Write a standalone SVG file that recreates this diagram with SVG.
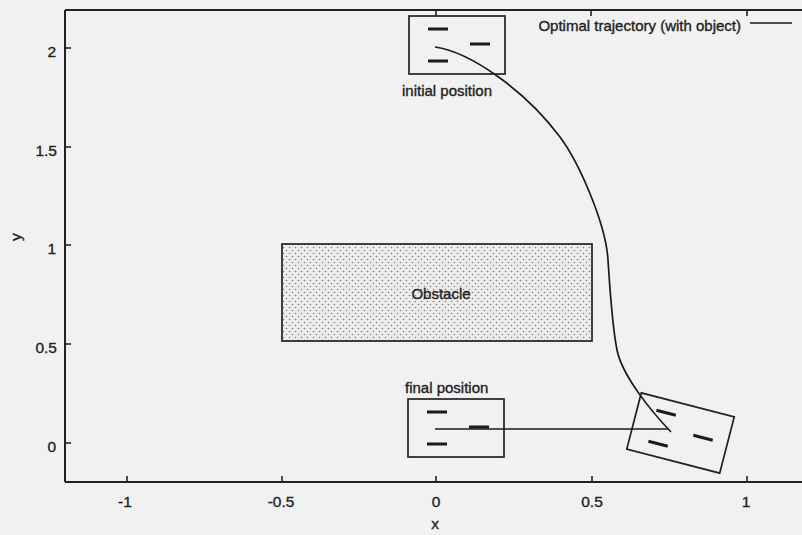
<svg xmlns="http://www.w3.org/2000/svg" width="802" height="535" viewBox="0 0 802 535">
  <style>
    text { font-family: "Liberation Sans", Arial, sans-serif; font-size: 15px; fill: #222; stroke: #222; stroke-width: 0.35; }
    .axis { stroke: #222; stroke-width: 2; fill: none; }
    .tick { stroke: #222; stroke-width: 1.6; }
    .box { fill: none; stroke: #222; stroke-width: 1.7; }
    .dash { stroke: #1a1a1a; stroke-width: 3; }
    .traj { fill: none; stroke: #1a1a1a; stroke-width: 1.7; }
    .ty { text-anchor: end; font-size: 15.5px; }
    .tx { text-anchor: middle; font-size: 15.5px; }
  </style>
  <defs>
    <pattern id="dots" width="6" height="6" patternUnits="userSpaceOnUse">
      <rect width="6" height="6" fill="#ececec"/>
      <circle cx="1.5" cy="1.5" r="0.8" fill="#808080"/>
      <circle cx="4.5" cy="4.5" r="0.8" fill="#808080"/>
    </pattern>
    <g id="robot">
      <rect class="box" x="-48" y="-29" width="96" height="58"/>
      <line class="dash" x1="-29" y1="-16" x2="-9" y2="-16"/>
      <line class="dash" x1="-29" y1="16" x2="-9" y2="16"/>
      <line class="dash" x1="13" y1="-1" x2="33" y2="-1"/>
    </g>
  </defs>

  <rect width="802" height="535" fill="#f1f1f1"/>

  <g id="axes">
    <line class="axis" x1="65" y1="10" x2="802" y2="10"/>
    <line class="axis" x1="65" y1="10" x2="65" y2="482"/>
    <line class="axis" x1="65" y1="482" x2="802" y2="482"/>
    <line class="tick" x1="65" y1="48" x2="71" y2="48"/>
    <line class="tick" x1="65" y1="147" x2="71" y2="147"/>
    <line class="tick" x1="65" y1="245" x2="71" y2="245"/>
    <line class="tick" x1="65" y1="344" x2="71" y2="344"/>
    <line class="tick" x1="65" y1="443" x2="71" y2="443"/>
    <line class="tick" x1="127" y1="482" x2="127" y2="476"/>
    <line class="tick" x1="282" y1="482" x2="282" y2="476"/>
    <line class="tick" x1="436" y1="482" x2="436" y2="476"/>
    <line class="tick" x1="592" y1="482" x2="592" y2="476"/>
    <line class="tick" x1="747" y1="482" x2="747" y2="476"/>
    <line class="tick" x1="436" y1="10" x2="436" y2="16"/>
    <line class="tick" x1="591" y1="10" x2="591" y2="16"/>
    <line class="tick" x1="747" y1="10" x2="747" y2="16"/>
    <text class="ty" x="56" y="56.5">2</text>
    <text class="ty" x="57" y="155.5">1.5</text>
    <text class="ty" x="56" y="253.5">1</text>
    <text class="ty" x="57" y="352.5">0.5</text>
    <text class="ty" x="56" y="451.5">0</text>
    <text class="tx" x="125" y="507">-1</text>
    <text class="tx" x="281" y="507">-0.5</text>
    <text class="tx" x="436" y="507">0</text>
    <text class="tx" x="592" y="507">0.5</text>
    <text class="tx" x="746" y="507">1</text>
    <text class="tx" x="435" y="529">x</text>
    <text class="tx" x="21" y="237" transform="rotate(-90 21 237)">y</text>
  </g>

  <g id="legend">
    <text x="741" y="31" text-anchor="end">Optimal trajectory (with object)</text>
    <line x1="750" y1="23" x2="792" y2="23" stroke="#1a1a1a" stroke-width="1.6"/>
  </g>

  <g id="obstacle">
    <rect x="282" y="244" width="310" height="97" fill="url(#dots)" stroke="#222" stroke-width="1.7"/>
    <text x="441" y="299" text-anchor="middle">Obstacle</text>
  </g>

  <g id="initial-position">
    <use href="#robot" x="457" y="45"/>
    <text x="402" y="96">initial position</text>
  </g>

  <g id="final-position">
    <use href="#robot" x="456" y="428"/>
    <text x="405" y="393">final position</text>
  </g>

  <g id="rotated-position">
    <use href="#robot" transform="translate(680.5 433) rotate(14.5)"/>
  </g>

  <g id="connectors">
    <path class="traj" d="M435,47 C470,52 525,90 560,137 C580,164 606,225 608,260 C610,290 612,325 617,350 C622,375 650,410 671,432"/>
    <line class="traj" x1="435" y1="429" x2="669" y2="429"/>
  </g>
</svg>
